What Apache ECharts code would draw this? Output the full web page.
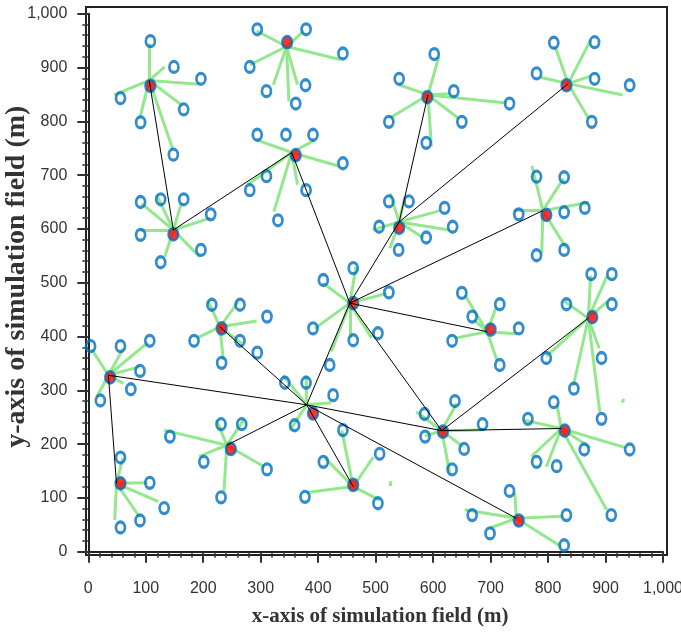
<!DOCTYPE html>
<html>
<head>
<meta charset="utf-8">
<script src="https://cdn.jsdelivr.net/npm/echarts@6/dist/echarts.min.js"></script>
<style>
  html, body { margin: 0; padding: 0; background: #fff; }
  #chart { width: 681px; height: 635px; }
</style>
</head>
<body>
<div id="chart"></div>
<script>
// cluster heads (red) and the point where their lines meet
const heads = [
  [108, 866], [346, 947], [361, 737], [148, 590], [590, 845], [832, 867], [797, 626],
  [541, 602], [461, 462], [391, 257], [461, 124], [248, 191], [232, 415], [38, 324],
  [56, 127], [700, 413], [617, 223], [877, 436], [829, 225], [749, 58]
]
const hubs = [
  [106, 876], [345, 939], [354, 742], [148, 598], [591, 849], [835, 870], [791, 634],
  [541, 613], [455, 462], [380, 273], [461, 121], [241, 198], [229, 418], [35, 328],
  [49, 127], [694, 409], [615, 225], [870, 434], [823, 229], [745, 62]
]

// member nodes of each cluster
const members = [
  [[108, 949], [149, 901], [196, 879], [56, 843], [166, 822], [91, 798], [148, 738]],
  [[294, 971], [379, 971], [443, 926], [281, 901], [378, 867], [310, 856], [361, 833]],
  [[294, 775], [344, 775], [391, 775], [443, 722], [310, 698], [281, 672], [379, 672], [330, 616]],
  [[91, 650], [126, 655], [166, 655], [213, 627], [91, 589], [196, 561], [126, 538]],
  [[602, 925], [541, 879], [636, 856], [733, 833], [523, 799], [650, 799], [588, 760]],
  [[810, 946], [881, 947], [780, 889], [881, 879], [942, 867], [876, 799]],
  [[780, 697], [828, 696], [749, 627], [828, 631], [864, 639], [780, 551], [828, 561]],
  [[523, 651], [558, 651], [620, 639], [506, 604], [634, 604], [588, 584], [540, 561]],
  [[461, 527], [409, 505], [523, 482], [391, 415], [461, 393], [504, 406], [420, 347]],
  [[342, 314], [379, 314], [426, 291], [359, 235]],
  [[443, 226], [409, 167], [507, 182], [377, 102], [504, 90]],
  [[231, 237], [267, 237], [142, 214], [201, 167], [311, 153], [231, 101]],
  [[215, 459], [264, 459], [311, 437], [184, 392], [264, 392], [294, 370], [232, 351]],
  [[4, 382], [56, 382], [107, 392], [90, 336], [74, 302], [21, 281]],
  [[56, 175], [107, 128], [132, 81], [90, 58], [56, 45]],
  [[650, 481], [716, 460], [668, 437], [749, 415], [633, 392], [716, 347]],
  [[638, 280], [585, 256], [686, 237], [586, 214], [654, 191], [633, 153]],
  [[875, 516], [911, 516], [832, 460], [911, 460], [797, 360], [893, 360], [845, 303], [893, 247]],
  [[810, 278], [765, 247], [863, 190], [942, 190], [780, 167], [815, 159], [910, 68]],
  [[733, 113], [668, 68], [832, 68], [699, 34], [828, 12]]
]

// where the green lines of each cluster end
const spokes = [
  [[106, 945], [133, 901], [193, 869], [45, 849], [164, 829], [90, 807], [147, 748]],
  [[293, 968], [375, 968], [438, 915], [281, 905], [364, 868], [322, 868], [349, 837]],
  [[294, 765], [394, 765], [438, 716], [277, 682], [364, 682], [323, 632]],
  [[93, 647], [119, 663], [162, 648], [212, 620], [91, 598], [194, 548], [133, 548]],
  [[610, 920], [541, 868], [629, 851], [728, 834], [525, 806], [644, 806], [597, 753]],
  [[813, 937], [874, 951], [786, 882], [874, 884], [930, 849], [870, 806]],
  [[772, 717], [827, 694], [740, 634], [870, 649], [789, 555], [832, 564]],
  [[525, 666], [551, 660], [612, 634], [495, 598], [628, 598], [583, 583], [525, 564]],
  [[466, 530], [409, 499], [519, 480], [394, 415], [455, 397], [493, 397], [423, 372]],
  [[339, 328], [379, 328], [423, 277], [351, 226]],
  [[441, 226], [412, 174], [496, 176], [380, 110], [507, 96]],
  [[223, 245], [270, 244], [132, 226], [193, 177], [306, 158], [236, 112]],
  [[209, 465], [261, 465], [293, 429], [189, 397], [267, 387], [235, 356]],
  [[6, 376], [61, 378], [104, 389], [90, 344], [61, 313], [15, 288]],
  [[60, 174], [103, 128], [122, 93], [89, 65], [46, 59]],
  [[655, 477], [710, 455], [671, 431], [744, 405], [638, 397], [711, 356]],
  [[641, 276], [571, 260], [684, 226], [586, 215], [652, 195], [629, 146]],
  [[874, 513], [903, 513], [829, 465], [903, 465], [797, 363], [889, 378], [844, 308], [890, 260]],
  [[815, 276], [757, 245], [873, 194], [933, 194], [771, 177], [797, 158], [902, 78]],
  [[742, 109], [655, 78], [826, 66], [699, 44], [823, 9]]
]

// two short stray green dashes
const specks = [
  [[525, 122], [525, 131]],
  [[929, 277], [932, 284]]
]

// black links between cluster heads (index pairs)
const links = [
  [0, 3], [3, 2], [2, 8], [4, 7], [5, 7], [7, 8], [6, 8], [8, 15], [8, 16], [16, 17],
  [16, 18], [13, 9], [9, 16], [9, 8], [12, 9], [11, 9], [13, 14], [9, 10], [9, 19]
]

const xTicks = { min: 0, max: 1000, step: 100 }
const yTicks = { min: 0, max: 1000, step: 100 }

const fmt = v => Number(v).toLocaleString('en-US')

const spokeData = []
spokes.forEach((list, i) => {
  list.forEach(p => spokeData.push({ coords: [hubs[i], p] }))
})
specks.forEach(s => spokeData.push({ coords: s }))

const memberData = []
members.forEach(list => list.forEach(p => memberData.push(p)))

const linkData = links.map(([a, b]) => ({ coords: [hubs[a], hubs[b]] }))

const chart = echarts.init(document.getElementById('chart'))

const tickStyle = { color: '#333', width: 2 }
const labelStyle = { color: '#333', fontSize: 16, fontFamily: 'Liberation Sans' }
const nameStyle = { color: '#333', fontWeight: 'bold', fontFamily: 'Liberation Serif' }

chart.setOption({
  animation: false,
  grid: [
    { left: 88.3, right: 18, top: 13.7, bottom: 83.3, outerBoundsMode: 'none' },
    { left: 86, right: 14, top: 7, bottom: 80, show: true, borderColor: '#222', borderWidth: 2,
      backgroundColor: 'transparent', outerBoundsMode: 'none' }
  ],
  xAxis: [
    {
      type: 'value', gridIndex: 0, min: xTicks.min, max: xTicks.max, interval: xTicks.step,
      offset: 3,
      name: 'x-axis of simulation field (m)', nameLocation: 'middle', nameGap: 51,
      nameMoveOverlap: false,
      nameTextStyle: Object.assign({ fontSize: 21, padding: [0, 0, 0, 9] }, nameStyle),
      axisLine: { show: true, lineStyle: { color: '#222', width: 2 } },
      axisTick: { show: true, inside: false, length: 11, lineStyle: tickStyle },
      minorTick: { show: true, splitNumber: 5, length: 6, lineStyle: { color: '#333', width: 1.5 } },
      splitLine: { show: false },
      axisLabel: Object.assign({ margin: 26, formatter: fmt, showMinLabel: true, showMaxLabel: true }, labelStyle)
    },
    { type: 'value', gridIndex: 1, show: false, min: 0, max: 1 }
  ],
  yAxis: [
    {
      type: 'value', gridIndex: 0, min: yTicks.min, max: yTicks.max, interval: yTicks.step,
      offset: 2,
      name: 'y-axis of simulation field (m)', nameLocation: 'middle', nameGap: 56,
      nameMoveOverlap: false,
      nameTextStyle: Object.assign({ fontSize: 28, padding: [0, 0, 0, 12] }, nameStyle),
      axisLine: { show: true, lineStyle: { color: '#222', width: 2 } },
      axisTick: { show: true, inside: false, length: 11, lineStyle: tickStyle },
      minorTick: { show: true, splitNumber: 5, length: 6, lineStyle: { color: '#333', width: 1.5 } },
      splitLine: { show: false },
      axisLabel: Object.assign({ margin: 19, formatter: fmt, showMinLabel: true, showMaxLabel: true }, labelStyle)
    },
    { type: 'value', gridIndex: 1, show: false, min: 0, max: 1 }
  ],
  series: [
    {
      name: 'spokes', type: 'lines', coordinateSystem: 'cartesian2d', xAxisIndex: 0, yAxisIndex: 0,
      silent: true, z: 1,
      lineStyle: { color: '#93e88d', width: 3, opacity: 1 },
      data: spokeData
    },
    {
      name: 'members', type: 'scatter', xAxisIndex: 0, yAxisIndex: 0, z: 2,
      symbol: 'circle', symbolSize: [9, 11],
      itemStyle: { color: 'rgba(255,255,255,0)', borderColor: '#0070c0', borderWidth: 3 },
      data: memberData
    },
    {
      name: 'heads', type: 'scatter', xAxisIndex: 0, yAxisIndex: 0, z: 3,
      symbol: 'circle', symbolSize: [10, 12],
      itemStyle: { color: '#ff0000', borderColor: '#0070c0', borderWidth: 2.5 },
      data: heads
    },
    {
      name: 'links', type: 'lines', coordinateSystem: 'cartesian2d', xAxisIndex: 0, yAxisIndex: 0,
      silent: true, z: 4,
      lineStyle: { color: '#000', width: 1, opacity: 1 },
      data: linkData
    }
  ]
})
</script>
</body>
</html>
